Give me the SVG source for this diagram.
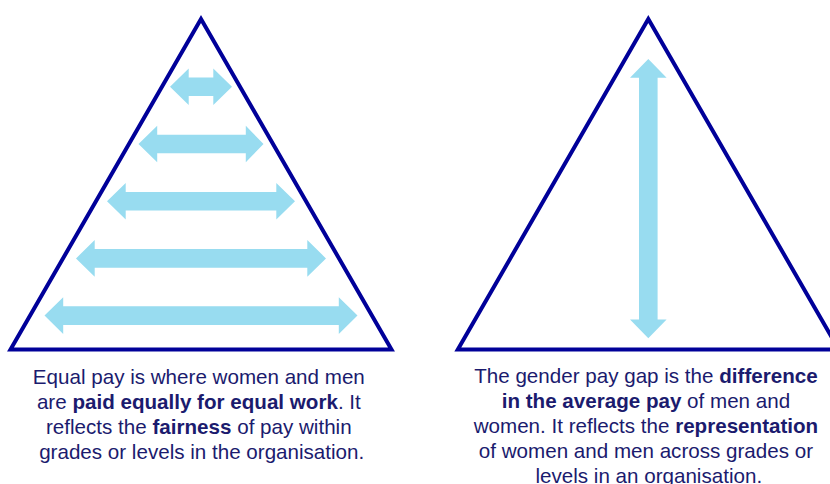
<svg xmlns="http://www.w3.org/2000/svg" width="830" height="484" viewBox="0 0 830 484">
  <style>
    .tri { fill: #ffffff; stroke: #000099; stroke-width: 4; stroke-linejoin: miter; }
    .arrow { fill: #98dcf0; stroke: none; }
    .label { font-family: "Liberation Sans", Arial, sans-serif; font-size: 20.6px; fill: #1b1b6e; text-anchor: middle; }
    .b { font-weight: bold; }
  </style>
  <rect width="830" height="484" fill="#ffffff"/>

  <!-- Equal pay: pyramid with horizontal double arrows -->
  <g id="equal-pay">
    <polygon class="tri" points="10.5,349.5 201,19 391.5,349.5"/>
    <g id="equal-pay-arrows">
      <polygon class="arrow" points="170,86.8 188.7,68.5 188.7,77.5 213.3,77.5 213.3,68.5 232,86.8 213.3,105.1 213.3,96.1 188.7,96.1 188.7,105.1"/>
      <polygon class="arrow" points="138.5,144 157.2,125.7 157.2,134.7 245.8,134.7 245.8,125.7 263.5,144 245.8,162.3 245.8,153.3 157.2,153.3 157.2,162.3"/>
      <polygon class="arrow" points="107,201.2 125.7,182.9 125.7,191.9 276.3,191.9 276.3,182.9 295,201.2 276.3,219.5 276.3,210.5 125.7,210.5 125.7,219.5"/>
      <polygon class="arrow" points="76,258.4 94.7,240.1 94.7,249.1 307.3,249.1 307.3,240.1 326,258.4 307.3,276.7 307.3,267.7 94.7,267.7 94.7,276.7"/>
      <polygon class="arrow" points="44.5,315.6 63.2,297.3 63.2,306.3 338.8,306.3 338.8,297.3 357.5,315.6 338.8,333.9 338.8,324.9 63.2,324.9 63.2,333.9"/>
    </g>
    <text class="label">
      <tspan x="201.7" y="384">Equal pay is where women and men</tspan>
      <tspan x="201.7" y="409">are <tspan class="b">paid equally for equal work</tspan>. It</tspan>
      <tspan x="201.7" y="434">reflects the <tspan class="b">fairness</tspan> of pay within</tspan>
      <tspan x="201.7" y="459">grades or levels in the organisation.</tspan>
    </text>
  </g>

  <!-- Gender pay gap: pyramid with one vertical double arrow -->
  <g id="gender-pay-gap">
    <polygon class="tri" points="457.8,349.5 648.3,19 838.8,349.5"/>
    <polygon class="arrow" points="648.3,59 666.6,77.7 657.6,77.7 657.6,319.6 666.6,319.6 648.3,338.3 630,319.6 639,319.6 639,77.7 630,77.7"/>
    <text class="label">
      <tspan x="648.8" y="383">The gender pay gap is the <tspan class="b">difference</tspan></tspan>
      <tspan x="648.8" y="408"><tspan class="b">in the average pay</tspan> of men and</tspan>
      <tspan x="648.8" y="433">women. It reflects the <tspan class="b">representation</tspan></tspan>
      <tspan x="648.8" y="458">of women and men across grades or</tspan>
      <tspan x="648.8" y="483">levels in an organisation.</tspan>
    </text>
  </g>
</svg>
